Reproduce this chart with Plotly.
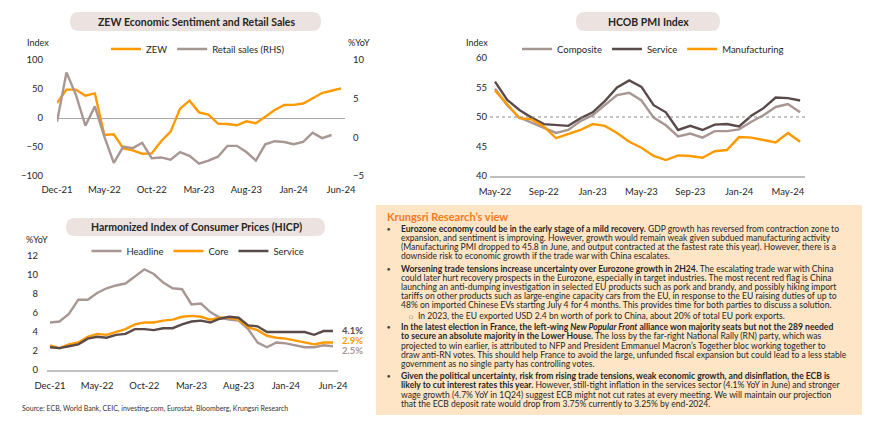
import plotly.graph_objects as go
import pandas as pd

W, H = 870, 421
FONT = "Lato"
TXT = "#262626"


def px(x):
    return x / W


def py(y):
    return 1 - y / H


# ---------------- DATA ----------------
zew_months = pd.date_range("2021-12-01", "2024-06-01", freq="MS").strftime("%b-%y").tolist()
pmi_months = pd.date_range("2022-05-01", "2024-06-01", freq="MS").strftime("%b-%y").tolist()
hicp_months = pd.date_range("2021-12-01", "2024-06-01", freq="MS").strftime("%b-%y").tolist()

zew_ticks = ["Dec-21", "May-22", "Oct-22", "Mar-23", "Aug-23", "Jan-24", "Jun-24"]
pmi_ticks = ["May-22", "Sep-22", "Jan-23", "May-23", "Sep-23", "Jan-24", "May-24"]
hicp_ticks = ["Dec-21", "May-22", "Oct-22", "Mar-23", "Aug-23", "Jan-24", "Jun-24"]

zew = [25.9, 48.9, 48.9, 38.5, 42.5, -29.3, -28.2, -52.3, -55.7, -61.5, -61.0,
       -40.0, -23.6, 16.1, 29.9, 9.8, 5.7, -9.8, -10.3, -12.6, -5.7, -9.0,
       2.3, 13.8, 22.4, 22.7, 25.0, 33.3, 43.0, 47.0, 51.0]
retail = [2.0, 8.4, 5.5, 1.5, 4.0, 0.1, -3.3, -1.2, -1.4, -0.7, -2.7, -2.6,
          -2.9, -1.9, -2.4, -3.4, -3.0, -2.5, -1.1, -1.1, -1.9, -3.0, -0.9,
          -0.5, -0.6, -0.9, -0.6, 0.6, -0.1, 0.3]

pmi_composite = [54.8, 52.0, 49.9, 49.0, 48.1, 47.3, 47.8, 49.3, 50.3, 52.0, 53.7,
                 54.1, 52.8, 49.9, 48.6, 46.7, 47.2, 46.5, 47.6, 47.6, 47.9, 49.2,
                 50.3, 51.7, 52.2, 50.8]
pmi_service = [56.0, 52.9, 51.2, 49.9, 48.8, 48.6, 48.5, 49.8, 50.8, 52.7, 55.0,
               56.2, 55.1, 52.0, 50.8, 47.8, 48.5, 47.8, 48.7, 48.8, 48.4, 50.2,
               51.5, 53.3, 53.2, 52.8]
pmi_manufacturing = [54.5, 52.1, 49.8, 49.6, 48.4, 46.4, 47.1, 47.8, 48.8, 48.5, 47.3,
                     45.8, 44.8, 43.4, 42.7, 43.5, 43.4, 43.1, 44.2, 44.4, 46.6, 46.5,
                     46.1, 45.7, 47.3, 45.8]

hicp_headline = [5.0, 5.1, 5.9, 7.4, 7.4, 8.1, 8.6, 8.9, 9.1, 9.9, 10.6, 10.1, 9.2,
                 8.6, 8.5, 6.9, 7.0, 6.1, 5.5, 5.3, 5.2, 4.3, 2.9, 2.4, 2.9, 2.8,
                 2.6, 2.4, 2.4, 2.6, 2.5]
hicp_core = [2.6, 2.3, 2.7, 2.9, 3.5, 3.8, 3.7, 4.0, 4.3, 4.8, 5.0, 5.0, 5.2, 5.3,
             5.6, 5.7, 5.6, 5.3, 5.5, 5.5, 5.3, 4.5, 4.2, 3.6, 3.4, 3.3, 3.1, 2.9,
             2.7, 2.9, 2.9]
hicp_service = [2.4, 2.3, 2.5, 2.7, 3.3, 3.5, 3.4, 3.7, 3.8, 4.3, 4.3, 4.2, 4.4,
                4.4, 4.8, 5.1, 5.2, 5.0, 5.4, 5.6, 5.5, 4.7, 4.6, 4.0, 4.0, 4.0,
                4.0, 4.0, 3.7, 4.1, 4.1]

# ---------------- STYLE ----------------
ORANGE = "#FF9900"
LIGHT = "#A89693"
DARK = "#5A4A4A"
PILL = "#ECE3E1"
PEACH = "#FDE5C5"
LW = 2.4

fig = go.Figure()

# ZEW chart
fig.add_trace(go.Scatter(x=zew_months, y=zew, name="ZEW", mode="lines",
                         line=dict(color=ORANGE, width=LW), xaxis="x", yaxis="y",
                         legend="legend"))
fig.add_trace(go.Scatter(x=zew_months[:len(retail)], y=retail, name="Retail sales (RHS)",
                         mode="lines", line=dict(color=LIGHT, width=LW), xaxis="x",
                         yaxis="y2", legend="legend"))

# PMI chart
fig.add_trace(go.Scatter(x=pmi_months, y=pmi_composite, name="Composite", mode="lines",
                         line=dict(color=LIGHT, width=LW), xaxis="x2", yaxis="y3",
                         legend="legend2"))
fig.add_trace(go.Scatter(x=pmi_months, y=pmi_service, name="Service", mode="lines",
                         line=dict(color=DARK, width=LW), xaxis="x2", yaxis="y3",
                         legend="legend2"))
fig.add_trace(go.Scatter(x=pmi_months, y=pmi_manufacturing, name="Manufacturing",
                         mode="lines", line=dict(color=ORANGE, width=LW), xaxis="x2",
                         yaxis="y3", legend="legend2"))

# HICP chart
fig.add_trace(go.Scatter(x=hicp_months, y=hicp_headline, name="Headline", mode="lines",
                         line=dict(color=LIGHT, width=LW), xaxis="x3", yaxis="y4",
                         legend="legend3"))
fig.add_trace(go.Scatter(x=hicp_months, y=hicp_core, name="Core", mode="lines",
                         line=dict(color=ORANGE, width=LW), xaxis="x3", yaxis="y4",
                         legend="legend3"))
fig.add_trace(go.Scatter(x=hicp_months, y=hicp_service, name="Service", mode="lines",
                         line=dict(color=DARK, width=LW), xaxis="x3", yaxis="y4",
                         legend="legend3"))

tickfont = dict(family=FONT, size=9.5, color=TXT)
common = dict(showgrid=False, zeroline=False, ticks="", tickfont=tickfont, fixedrange=True,
              automargin=False)
legfont = dict(family=FONT, size=9.5, color=TXT)

fig.update_layout(
    width=W, height=H, autosize=False,
    margin=dict(l=0, r=0, t=0, b=0, pad=0, autoexpand=False),
    paper_bgcolor="white", plot_bgcolor="white",
    font=dict(family=FONT, color=TXT),
    xaxis=dict(domain=[px(49), px(337)], range=[0, 30.42], type="category",
               tickmode="array", tickvals=zew_ticks, anchor="y", showline=False,
               ticklabelstandoff=6, **common),
    yaxis=dict(domain=[py(168), py(52)], range=[-100, 100],
               tickvals=[-100, -50, 0, 50, 100], anchor="x",
               ticklabelstandoff=13,
               **{**common, "zeroline": True}, zerolinecolor="#A6A6A6", zerolinewidth=1.2),
    yaxis2=dict(overlaying="y", side="right", anchor="x", range=[-5, 10],
                tickvals=[-5, 0, 5, 10], ticklabelstandoff=7, **common),
    xaxis2=dict(domain=[px(482), px(797)], range=[-0.41, 25.4], type="category",
                tickmode="array", tickvals=pmi_ticks, anchor="y3", showline=True,
                linecolor="#BFBFBF", linewidth=1.5, ticklabelstandoff=6, **common),
    yaxis3=dict(domain=[py(168), py(50)], range=[40, 60], tickvals=[40, 45, 50, 55, 60],
                anchor="x2", ticklabelstandoff=2, **common),
    xaxis3=dict(domain=[px(39), px(330)], range=[-0.32, 30.53], type="category",
                tickmode="array", tickvals=hicp_ticks, anchor="y4", showline=True,
                linecolor="#BFBFBF", linewidth=1.5, ticklabelstandoff=6, **common),
    yaxis4=dict(domain=[py(362), py(248)], range=[0, 12], tickvals=[0, 2, 4, 6, 8, 10, 12],
                anchor="x3", ticklabelstandoff=8, **common),
    legend=dict(orientation="h", x=px(190), y=py(41), xanchor="center", yanchor="middle",
                font=legfont, bgcolor="rgba(0,0,0,0)", itemwidth=30),
    legend2=dict(orientation="h", x=px(645), y=py(41), xanchor="center", yanchor="middle",
                 font=legfont, bgcolor="rgba(0,0,0,0)", itemwidth=30),
    legend3=dict(orientation="h", x=px(190), y=py(243), xanchor="center", yanchor="middle",
                 font=legfont, bgcolor="rgba(0,0,0,0)", itemwidth=30),
    showlegend=True,
)


def pill_path(x0, y0, x1, y1, r):
    pts = [("M", [(x0 + r, y0)]), ("L", [(x1 - r, y0)]), ("Q", [(x1, y0), (x1, y0 + r)]),
           ("L", [(x1, y1 - r)]), ("Q", [(x1, y1), (x1 - r, y1)]), ("L", [(x0 + r, y1)]),
           ("Q", [(x0, y1), (x0, y1 - r)]), ("L", [(x0, y0 + r)]), ("Q", [(x0, y0), (x0 + r, y0)])]
    s = ""
    for cmd, coords in pts:
        s += cmd + " " + " ".join(f"{px(a):.5f},{py(b):.5f}" for a, b in coords) + " "
    return s + "Z"


shapes = []
# background of commentary box
shapes.append(dict(type="rect", xref="paper", yref="paper", x0=px(368), x1=px(860),
                   y0=py(407), y1=py(197), fillcolor=PEACH, line=dict(width=0), layer="below"))
# title pills
for (x0, y0, x1, y1) in [(62, 4, 313, 23), (568, 4, 712, 23), (58, 210, 317, 228)]:
    shapes.append(dict(type="path", xref="paper", yref="paper",
                       path=pill_path(x0, y0, x1, y1, 9), fillcolor=PILL,
                       line=dict(width=0), layer="below"))
# dotted 50 line in PMI chart
shapes.append(dict(type="line", xref="x2 domain", yref="y3", x0=0, x1=1, y0=50, y1=50,
                   line=dict(color="#8C8C8C", width=1, dash="dot")))
fig.update_layout(shapes=shapes)

ann = []


def text(x, y, s, size=9.5, color=TXT, anchor="left", yanchor="middle", **kw):
    ann.append(dict(x=px(x), y=py(y), xref="paper", yref="paper", text=s, showarrow=False,
                    xanchor=anchor, yanchor=yanchor,
                    font=dict(family=FONT, size=size, color=color), **kw))


# chart titles
text(188, 14, "<b>ZEW Economic Sentiment and Retail Sales</b>", size=10.5, anchor="center")
text(640, 14, "<b>HCOB PMI Index</b>", size=10.5, anchor="center")
text(188, 219, "<b>Harmonized Index of Consumer Prices (HICP)</b>", size=10.5, anchor="center")

# axis unit labels
text(30, 34, "Index", size=9, anchor="center")
text(351, 34, "%YoY", size=9, anchor="center")
text(469, 34, "Index", size=9, anchor="center")
text(29, 232, "%YoY", size=9, anchor="center")

# end labels on HICP
for series, col, ysh in [(hicp_service, DARK, 1), (hicp_core, ORANGE, 2), (hicp_headline, LIGHT, -4)]:
    ann.append(dict(x=hicp_months[-1], y=series[-1], xref="x3", yref="y4",
                    text=f"<b>{series[-1]:.1f}%</b>", showarrow=False, xanchor="left",
                    yanchor="middle", xshift=7, yshift=ysh,
                    font=dict(family=FONT, size=9.5, color=col)))

# source
text(12, 400, "Source: ECB, World Bank, CEIC, investing.com, Eurostat, Bloomberg, Krungsri Research",
     size=7, color="#333333")

# commentary box
text(377, 208, "<b>Krungsri Research\u2019s view</b>", size=11, color="#F47B20")

BS = 8.55
lines = [
    (221.0, True, "<b>Eurozone economy could be in the early stage of a mild recovery.</b> GDP growth has reversed from contraction zone to"),
    (229.9, False, "expansion, and sentiment is improving. However, growth would remain weak given subdued manufacturing activity"),
    (238.8, False, "(Manufacturing PMI dropped to 45.8 in June, and output contracted at the fastest rate this year). However, there is a"),
    (247.7, False, "downside risk to economic growth if the trade war with China escalates."),
    (261.0, True, "<b>Worsening trade tensions increase uncertainty over Eurozone growth in 2H24.</b> The escalating trade war with China"),
    (269.9, False, "could later hurt recovery prospects in the Eurozone, especially in target industries. The most recent red flag is China"),
    (278.8, False, "launching an anti-dumping investigation in selected EU products such as pork and brandy, and possibly hiking import"),
    (287.7, False, "tariffs on other products such as large-engine capacity cars from the EU, in response to the EU raising duties of up to"),
    (296.6, False, "48% on imported Chinese EVs starting July 4 for 4 months. This provides time for both parties to discuss a solution."),
    (319.3, True, "<b>In the latest election in France, the left-wing <i>New Popular Front</i> alliance won majority seats but not the 289 needed</b>"),
    (328.3, False, "<b>to secure an absolute majority in the Lower House.</b> The loss by the far-right National Rally (RN) party, which was"),
    (338.3, False, "projected to win earlier, is attributed to NFP and President Emmanuel Macron\u2019s Together bloc working together to"),
    (347.3, False, "draw anti-RN votes. This should help France to avoid the large, unfunded fiscal expansion but could lead to a less stable"),
    (356.3, False, "government as no single party has controlling votes."),
    (368.0, True, "<b>Given the political uncertainty, risk from rising trade tensions, weak economic growth, and disinflation, the ECB is</b>"),
    (377.0, False, "<b>likely to cut interest rates this year.</b> However, still-tight inflation in the services sector (4.1% YoY in June) and stronger"),
    (386.6, False, "wage growth (4.7% YoY in 1Q24) suggest ECB might not cut rates at every meeting. We will maintain our projection"),
    (395.6, False, "that the ECB deposit rate would drop from 3.75% currently to 3.25% by end-2024."),
]
for y, bullet, s in lines:
    if bullet:
        text(380, y, "\u25cf", size=5.5, color="#404040", anchor="center")
    text(391, y, s, size=BS)

# sub bullet
text(403, 308.3, "\u25a1", size=6.5, color="#808080", anchor="center")
text(408, 308.3, "In 2023, the EU exported USD 2.4 bn worth of pork to China, about 20% of total EU pork exports.", size=BS)

fig.update_layout(annotations=ann)

fig.write_html("out.html")
